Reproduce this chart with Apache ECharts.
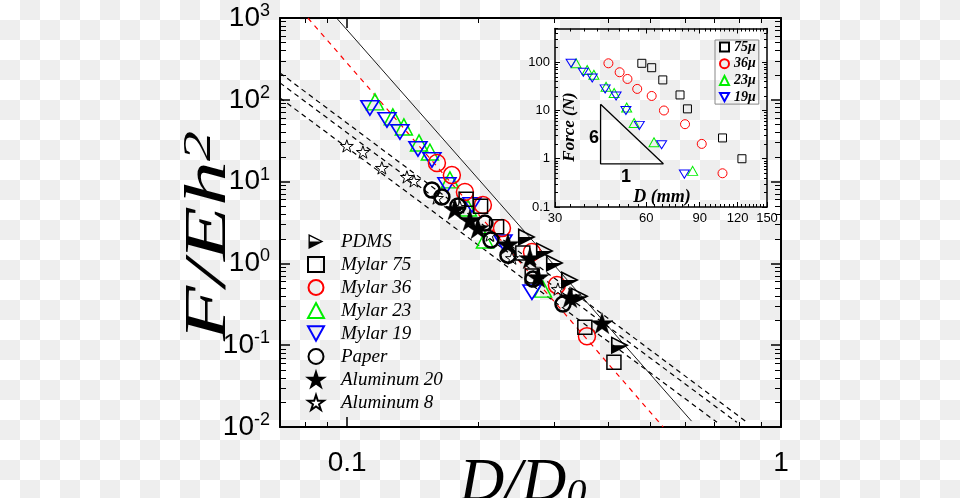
<!DOCTYPE html>
<html><head><meta charset="utf-8">
<script src="https://cdn.jsdelivr.net/npm/echarts@6/dist/echarts.min.js"></script>
<style>
html,body{margin:0;padding:0;width:960px;height:498px;overflow:hidden;}
body{background-color:#fff;background-image:repeating-conic-gradient(#eeeeee 0 25%, #ffffff 0 50%);background-size:40px 40px;}
#chart{width:960px;height:498px;}
</style></head><body><div id="chart"></div>
<script>
// ---------- main plot: D/D0 vs F/Eh^2 ----------
const pdms    = [[0.2596,2.10],[0.2856,1.42],[0.3012,1.01],[0.3263,0.625],[0.344,0.398],[0.4254,0.100]];
const mylar75 = [[0.188,6.1],[0.203,5.0],[0.221,2.8],[0.254,1.34],[0.267,0.70],[0.353,0.166],[0.412,0.062]];
const mylar36 = [[0.161,16.9],[0.1743,12.0],[0.1868,7.46],[0.2055,5.17],[0.2274,2.70],[0.2666,1.375],[0.3044,0.543],[0.357,0.129]];
const mylar23 = [[0.1159,94.3],[0.1274,61.8],[0.1351,46.6],[0.1464,29.7],[0.1551,23.0],[0.1725,10.5],[0.1898,4.75],[0.2077,1.93],[0.2827,0.485]];
const mylar19 = [[0.1128,79.6],[0.1235,56.8],[0.1323,40.5],[0.1456,25.1],[0.1568,18.4],[0.1698,9.09],[0.1939,5.17],[0.2286,1.82],[0.2666,0.445]];
const paper   = [[0.1568,7.89],[0.1653,6.48],[0.18,5.03],[0.2077,3.11],[0.2145,1.93],[0.2347,1.26],[0.268,0.643],[0.3143,0.318]];
const alu20   = [[0.1771,4.62],[0.1918,3.39],[0.2001,2.70],[0.2347,1.72],[0.2638,1.16],[0.2753,0.68],[0.3263,0.387],[0.3867,0.186]];
const alu8    = [[0.0998,27.3],[0.1087,23.0],[0.1202,14.7],[0.1373,11.4],[0.1425,10.2],[0.161,6.30],[0.1819,4.89],[0.2133,2.22],[0.2398,1.16],[0.306,0.485]];
// guide lines (end points)
const fitRed   = [[0.0812,1000],[0.535,0.01]];
const fitSolid = [[0.0945,1000],[0.622,0.0118]];
const fitDash1 = [[0.07,213],[0.835,0.0114]];
const fitDash2 = [[0.07,161],[0.791,0.0114]];
const fitDash3 = [[0.07,105.5],[0.712,0.0114]];
// ---------- inset: D (mm) vs Force (N) ----------
const in75 = [[58,95],[62.5,77],[68,43],[77.5,21],[82,10.8],[107,2.7],[124,1.0]];
const in36 = [[45,95],[49,62],[52,45],[56,28],[62.5,20],[68.6,10],[80.5,5.2],[91.4,2.03],[107,0.5]];
const in23 = [[35.2,95],[38.3,69],[40.3,55],[44.2,31],[47,23],[51.7,11.5],[54.7,5.5],[63.6,2.2],[85.3,0.56]];
const in19 = [[33.9,95],[37.2,62],[39.8,47],[43.9,28],[47.7,20],[51.4,10],[56.9,4.9],[67.4,1.95],[80.1,0.48]];
const slopeTri = [[42.4,13.5],[42.4,0.784],[68.3,0.784],[42.4,13.5]];
// ---------- ticks ----------
const xMajorTicks = [0.1, 1];
const xMinorTicks = [0.08,0.09,0.2,0.3,0.4,0.5,0.6,0.7,0.8,0.9];
const yMajorTicks = [0.01,0.1,1,10,100,1000];
const yMinorTicks = [0.01,0.1,1,10,100].flatMap(d => [2,3,4,5,6,7,8,9].map(m => +(d*m).toPrecision(3)));
const inXMajorTicks = [30,60,90,120,150];
const inXMinorTicks = [];
for (let v = 33.75; v < 150; v += 3.75) { if (Math.abs(v/30 - Math.round(v/30)) > 1e-6) inXMinorTicks.push(v); }
const inYMajorTicks = [0.1,1,10,100];
const inYMinorTicks = [0.1,1,10,100].flatMap(d => [2,3,4,5,6,7,8,9].map(m => +(d*m).toPrecision(3))).filter(v => v <= 500);

const SANS = 'Liberation Sans', SERIF = 'Liberation Serif';
const STAR = 'path://M10 0 L12.245 6.91 L19.511 6.91 L13.633 11.18 L15.878 18.09 L10 13.82 L4.122 18.09 L6.367 11.18 L0.489 6.91 L7.755 6.91 Z';
const DOWN = 'path://M0 0 L20 0 L10 18 Z';
const HALF = 'path://M0 0 L20 10 L0 20 Z M1.8 2.9 L1.8 10 L16 10 Z';

function axis(dim, grid, pos, min, max, ticks, len, w, lineW, label) {
  return {
    type: 'log', gridIndex: grid, position: pos, min: min, max: max,
    axisLine: { show: lineW > 0, onZero: false, lineStyle: { color: '#000', width: lineW || 1 } },
    axisTick: { show: true, inside: true, length: len, customValues: ticks, lineStyle: { color: '#000', width: w } },
    axisLabel: label ? Object.assign({ show: true, customValues: ticks, color: '#000', fontFamily: SANS }, label) : { show: false },
    splitLine: { show: false }, minorTick: { show: false }, axisPointer: { show: false }
  };
}
const fmtNum = v => String(+(+v).toPrecision(3));
const fmtPow = v => '{b|10}{s|' + Math.round(Math.log10(v)) + '}';

const xAxis = [
  axis('x', 0, 'bottom', 0.07, 1, xMajorTicks, 10, 1.5, 2, { fontSize: 28, margin: 22, formatter: fmtNum }),
  axis('x', 0, 'bottom', 0.07, 1, xMinorTicks, 5, 1, 0),
  axis('x', 0, 'top', 0.07, 1, xMajorTicks, 10, 1.5, 2),
  axis('x', 0, 'top', 0.07, 1, xMinorTicks, 5, 1, 0),
  axis('x', 1, 'bottom', 30, 150, inXMajorTicks, 5, 1, 1.5, { fontSize: 13, margin: 5, formatter: fmtNum }),
  axis('x', 1, 'bottom', 30, 150, inXMinorTicks, 3, 1, 0),
  axis('x', 1, 'top', 30, 150, inXMajorTicks, 5, 1, 1.5),
  axis('x', 1, 'top', 30, 150, inXMinorTicks, 3, 1, 0)
];
const yAxis = [
  axis('y', 0, 'left', 0.01, 1000, yMajorTicks, 10, 1.5, 2, { fontSize: 28, margin: 10, formatter: fmtPow,
    rich: { b: { fontSize: 28, fontFamily: SANS, color: '#000', lineHeight: 32 },
            s: { fontSize: 18, fontFamily: SANS, color: '#000', lineHeight: 10, verticalAlign: 'top' } } }),
  axis('y', 0, 'left', 0.01, 1000, yMinorTicks, 6, 1, 0),
  axis('y', 0, 'right', 0.01, 1000, yMajorTicks, 10, 1.5, 2),
  axis('y', 0, 'right', 0.01, 1000, yMinorTicks, 6, 1, 0),
  axis('y', 1, 'left', 0.1, 500, inYMajorTicks, 5, 1, 1.5, { fontSize: 13, margin: 5, formatter: fmtNum }),
  axis('y', 1, 'left', 0.1, 500, inYMinorTicks, 3, 1, 0),
  axis('y', 1, 'right', 0.1, 500, inYMajorTicks, 5, 1, 1.5),
  axis('y', 1, 'right', 0.1, 500, inYMinorTicks, 3, 1, 0)
];

function scat(name, data, symbol, size, fill, stroke, bw, inset) {
  return { type: 'scatter', name: name, data: data, symbol: symbol, symbolSize: size, symbolKeepAspect: true,
    xAxisIndex: inset ? 4 : 0, yAxisIndex: inset ? 4 : 0,
    itemStyle: { color: fill, borderColor: stroke, borderWidth: bw, opacity: 1 },
    emphasis: { disabled: true } };
}
function line(name, data, color, type, width, inset) {
  return { type: 'line', name: name, data: data, symbol: 'none', showSymbol: false, silent: true,
    xAxisIndex: inset ? 4 : 0, yAxisIndex: inset ? 4 : 0, clip: true,
    lineStyle: { color: color, type: type, width: width }, emphasis: { disabled: true }, z: 1 };
}

const series = [
  line('fitRed', fitRed, '#ff0000', [5, 5], 1.2),
  line('fitSolid', fitSolid, '#000', 'solid', 0.9),
  line('fitDash1', fitDash1, '#000', [5, 4], 1.2),
  line('fitDash2', fitDash2, '#000', [5, 4], 1.2),
  line('fitDash3', fitDash3, '#000', [5, 4], 1.2),
  scat('Mylar 23', mylar23, 'triangle', [17, 16], 'transparent', '#00ee00', 1.5),
  scat('Mylar 19', mylar19, DOWN, [18, 16], 'transparent', '#0000ff', 1.6),
  scat('Mylar 36', mylar36, 'circle', 17, 'transparent', '#ff0000', 1.5),
  scat('Mylar 75', mylar75, 'rect', 14, 'transparent', '#000', 1.5),
  scat('Aluminum 8', alu8, STAR, 13, '#fff', '#000', 1),
  scat('Paper', paper, 'circle', 15, 'transparent', '#000', 2.5),
  scat('Aluminum 20', alu20, STAR, 22, '#000', '#000', 0.5),
  scat('PDMS', pdms, HALF, 18, '#000', '#000', 0),
  line('slope', slopeTri, '#000', 'solid', 1.3, true),
  scat('75μ', in75, 'rect', 8, 'transparent', '#000', 1, true),
  scat('36μ', in36, 'circle', 9, 'transparent', '#ff0000', 1, true),
  scat('23μ', in23, 'triangle', [10, 9], 'transparent', '#00ee00', 1, true),
  scat('19μ', in19, DOWN, [10, 9], 'transparent', '#0000ff', 1, true)
];

const option = {
  animation: false,
  grid: [
    { left: 280, right: 179, top: 18, bottom: 71, containLabel: false },
    { left: 555, right: 193, top: 28.5, bottom: 291, containLabel: false }
  ],
  xAxis: xAxis, yAxis: yAxis, series: series,
  legend: [
    { data: ['PDMS','Mylar 75','Mylar 36','Mylar 23','Mylar 19','Paper','Aluminum 20','Aluminum 8'],
      orient: 'vertical', left: 307, top: 232, padding: 0, itemWidth: 16, itemHeight: 15, itemGap: 4, selectedMode: false,
      textStyle: { fontFamily: SERIF, fontStyle: 'italic', fontSize: 19, lineHeight: 15, color: '#000', padding: [0, 0, 0, 12] } },
    { data: ['75μ','36μ','23μ','19μ'],
      orient: 'vertical', left: 715, top: 40, itemWidth: 9, itemHeight: 9, itemGap: 2.7, selectedMode: false,
      padding: [0, 3, 0, 4], borderColor: '#888', borderWidth: 1,
      textStyle: { fontFamily: SERIF, fontStyle: 'italic', fontWeight: 'bold', fontSize: 14, lineHeight: 12, color: '#000' } }
  ],
  graphic: [
    { type: 'text', x: 209, y: 236, rotation: Math.PI / 2, scaleX: 1.5, silent: true,
      style: { text: '{i|F/Eh}{s|2}', align: 'center', verticalAlign: 'middle', fill: '#000',
        rich: { i: { fontFamily: SERIF, fontStyle: 'italic', fontSize: 60, lineHeight: 60, fill: '#000' },
                s: { fontFamily: SERIF, fontStyle: 'italic', fontSize: 40, lineHeight: 30, verticalAlign: 'top', fill: '#000' } } } },
    { type: 'text', x: 523, y: 484, silent: true,
      style: { text: '{i|D/D}{b|0}', align: 'center', verticalAlign: 'middle', fill: '#000',
        rich: { i: { fontFamily: SERIF, fontStyle: 'italic', fontSize: 62, lineHeight: 62, fill: '#000' },
                b: { fontFamily: SERIF, fontStyle: 'italic', fontSize: 40, lineHeight: 24, verticalAlign: 'bottom', fill: '#000' } } } },
    { type: 'text', x: 570, y: 127, rotation: Math.PI / 2, silent: true,
      style: { text: 'Force (N)', align: 'center', verticalAlign: 'middle', fill: '#000',
        fontFamily: SERIF, fontStyle: 'italic', fontWeight: 'bold', fontSize: 17 } },
    { type: 'text', x: 662, y: 197, silent: true,
      style: { text: 'D (mm)', align: 'center', verticalAlign: 'middle', fill: '#000',
        fontFamily: SERIF, fontStyle: 'italic', fontWeight: 'bold', fontSize: 18 } },
    { type: 'text', x: 594, y: 138, silent: true,
      style: { text: '6', align: 'center', verticalAlign: 'middle', fill: '#000', fontFamily: SANS, fontWeight: 'bold', fontSize: 18 } },
    { type: 'text', x: 626, y: 177, silent: true,
      style: { text: '1', align: 'center', verticalAlign: 'middle', fill: '#000', fontFamily: SANS, fontWeight: 'bold', fontSize: 18 } }
  ]
};
const chart = echarts.init(document.getElementById('chart'), null, { renderer: 'canvas' });
chart.setOption(option);
</script></body></html>
